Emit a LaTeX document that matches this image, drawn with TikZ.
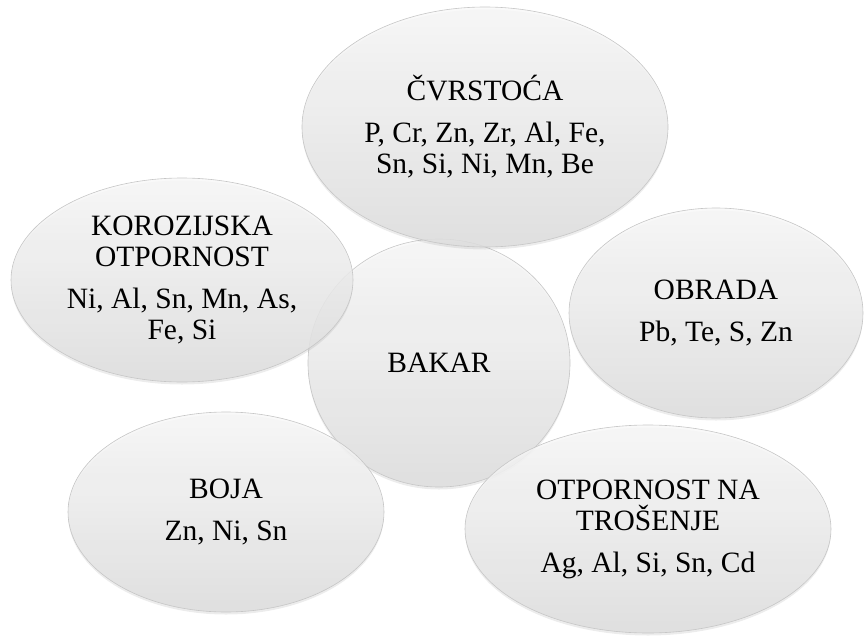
\documentclass[tikz,border=0pt]{standalone}
\usepackage{fontspec}
\setmainfont{Liberation Serif}
\usetikzlibrary{shapes.geometric,shadows}
\begin{document}
\begin{tikzpicture}[
                x=1pt, y=-1pt,
                every node/.style={ellipse,draw=gray!45,line width=0.6pt,inner sep=0pt,
                    top color=gray!5,bottom color=gray!26,fill opacity=0.85,text opacity=1,
                    align=center,font=\fontsize{29.5}{31}\selectfont,
                    drop shadow={shadow xshift=0pt,shadow yshift=-2.5pt,opacity=0.15}},
                bakarnode/.style={minimum width=262pt,minimum height=248pt},
                widenode/.style={minimum width=366pt,minimum height=208pt}
            ]

            \useasboundingbox (0,0) rectangle (865,635);

            \node[bakarnode] (bakar) at (439,363) {BAKAR};
            \node[minimum width=366pt,minimum height=240pt] (cvrstoca) at (485,127)
                {ČVRSTOĆA\\[11pt]P, Cr, Zn, Zr, Al, Fe,\\Sn, Si, Ni, Mn, Be};
            \node[minimum width=342pt,minimum height=204pt] (korozija) at (182,280)
                {KOROZIJSKA\\OTPORNOST\\[11pt]Ni, Al, Sn, Mn, As,\\Fe, Si};
            \node[minimum width=294pt,minimum height=210pt] (obrada) at (716,313)
                {OBRADA\\[11pt]Pb, Te, S, Zn};
            \node[minimum width=316pt,minimum height=200pt] (boja) at (226,512)
                {BOJA\\[11pt]Zn, Ni, Sn};
            \node[widenode] (trosenje) at (648,529)
                {OTPORNOST NA\\TROŠENJE\\[11pt]Ag, Al, Si, Sn, Cd};

        \end{tikzpicture}
\end{document}
